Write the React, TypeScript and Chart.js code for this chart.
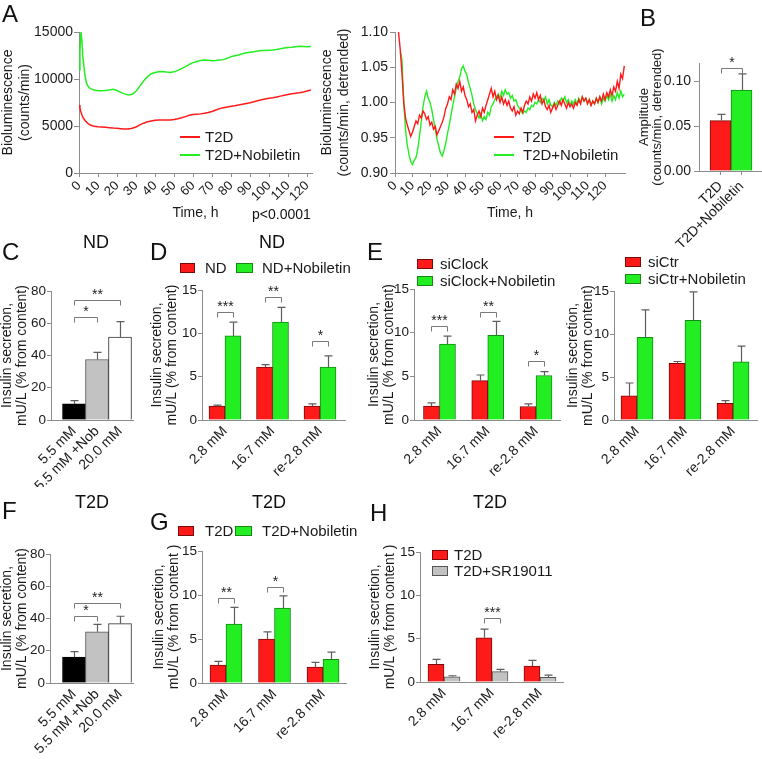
import React, { useEffect, useRef } from 'react';
import { Chart, registerables } from 'chart.js';

Chart.register(...registerables);

const FONT = "'Liberation Sans', Arial, Helvetica, sans-serif";
Chart.defaults.font.family = FONT;
Chart.defaults.font.size = 14;
Chart.defaults.color = '#1a1a1a';

// ---------------- data ----------------
const RAW_TIME_H = [0, 0.5, 1, 1.5, 2, 3, 4, 5, 6, 7, 8,
  10, 12, 14, 16, 18, 20, 22, 24, 26, 28,
  30, 32, 34, 36, 38, 40, 42, 44, 46, 48,
  50, 52, 54, 56, 58, 60, 62, 64, 66, 68,
  70, 72, 74, 76, 78, 80, 82, 84, 86, 88,
  90, 92, 94, 96, 98, 100, 102, 104, 106, 108,
  110, 112, 114, 116, 118, 120, 122];
const RAW_T2D = [7240, 6900, 6500, 6200, 5950, 5640, 5400, 5220, 5100, 5020, 4970,
  4920, 4890, 4860, 4820, 4780, 4750, 4720, 4690, 4670, 4760,
  4900, 5120, 5300, 5450, 5540, 5600, 5630, 5640, 5630, 5650,
  5700, 5780, 5870, 6000, 6140, 6220, 6260, 6290, 6350, 6440,
  6550, 6700, 6850, 6950, 7020, 7090, 7160, 7240, 7320, 7400,
  7480, 7580, 7690, 7790, 7870, 7940, 8010, 8090, 8180, 8270,
  8340, 8420, 8480, 8540, 8620, 8720, 8830];
const RAW_T2D_NOB = [10960, 13000, 15000, 14200, 12400, 10600, 9500, 9150, 8980, 8900, 8820,
  8760, 8740, 8770, 8840, 8900, 8780, 8580, 8420, 8300, 8380,
  8700, 9240, 9780, 10230, 10560, 10700, 10760, 10790, 10740, 10700,
  10760, 10920, 11100, 11320, 11560, 11740, 11860, 11980, 12020, 12000,
  11950, 11960, 12010, 12060, 12200, 12380, 12480, 12560, 12680, 12790,
  12850, 12900, 12980, 13020, 13040, 13070, 13090, 13150, 13220, 13300,
  13340, 13380, 13430, 13480, 13460, 13420, 13450];

const DETR_T2D_START_H = 2; // one reading per hour
const DETR_T2D = [
  1.100, 1.075, 1.040, 1.000, 0.978, 0.968, 0.960, 0.952, 0.958, 0.966,
  0.974, 0.970, 0.982, 0.978, 0.988, 0.984, 0.976, 0.980, 0.968, 0.972,
  0.962, 0.966, 0.954, 0.960, 0.966, 0.972, 0.980, 0.992, 0.998, 1.008,
  1.004, 1.018, 1.012, 1.026, 1.020, 1.030, 1.016, 1.022, 1.010, 1.004,
  0.994, 0.998, 0.986, 0.990, 0.974, 0.982, 0.988, 0.980, 0.992, 0.986,
  0.996, 1.004, 1.012, 1.020, 1.008, 1.016, 1.004, 1.010, 1.000, 1.008,
  0.998, 1.004, 0.996, 1.002, 0.992, 0.988, 0.994, 0.982, 0.988, 0.984,
  0.992, 0.986, 0.996, 1.002, 0.998, 1.008, 1.002, 1.012, 1.006, 1.014,
  1.004, 1.010, 0.998, 1.004, 0.994, 0.990, 0.996, 0.986, 0.992, 0.998,
  0.990, 0.996, 1.002, 0.996, 1.004, 0.998, 0.992, 1.000, 0.994, 0.998,
  0.992, 1.000, 0.996, 1.004, 0.998, 1.008, 1.002, 1.006, 0.998, 1.004,
  0.996, 1.002, 0.998, 1.006, 1.000, 1.008, 1.002, 1.012, 1.004, 1.014,
  1.008, 1.018, 1.010, 1.022, 1.016, 1.030, 1.020, 1.040, 1.034, 1.052];
const DETR_NOB_START_H = 3;
const DETR_NOB = [
  1.072, 1.060, 1.000, 0.962, 0.940, 0.926, 0.916, 0.912, 0.918, 0.922,
  0.934, 0.952, 0.972, 0.994, 1.008, 1.016, 1.006, 1.000, 0.990, 0.976,
  0.962, 0.948, 0.938, 0.928, 0.924, 0.932, 0.942, 0.956, 0.968, 0.982,
  0.996, 1.008, 1.020, 1.030, 1.036, 1.048, 1.052, 1.044, 1.040, 1.028,
  1.020, 1.010, 0.998, 0.990, 0.984, 0.978, 0.984, 0.974, 0.980, 0.976,
  0.986, 0.982, 0.994, 0.998, 1.004, 1.008, 1.012, 1.006, 1.016, 1.010,
  1.018, 1.012, 1.014, 1.006, 1.010, 1.002, 1.004, 0.996, 0.992, 0.988,
  0.984, 0.988, 0.986, 0.992, 0.990, 0.996, 0.994, 1.000, 0.998, 1.004,
  1.000, 1.006, 1.002, 1.008, 0.998, 1.004, 0.996, 0.994, 1.000, 0.996,
  1.002, 0.998, 1.006, 1.002, 1.008, 1.000, 1.004, 0.996, 1.002, 0.998,
  1.004, 0.998, 1.006, 1.000, 1.008, 1.002, 1.006, 1.000, 1.004, 0.996,
  1.002, 0.998, 1.006, 1.000, 1.008, 0.998, 1.006, 1.002, 1.010, 1.004,
  1.012, 1.002, 1.010, 1.004, 1.014, 1.006, 1.016, 1.008, 1.012];

const TIME_TICKS = [0, 10, 20, 30, 40, 50, 60, 70, 80, 90, 100, 110, 120];
const RAW_Y_TICKS = [0, 5000, 10000, 15000];
const DETR_Y_TICKS = [0.9, 0.95, 1.0, 1.05, 1.1];

const AMP_LABELS = ['T2D', 'T2D+Nobiletin'];
const AMP_VALUES = [0.056, 0.090];
const AMP_ERRORS = [0.007, 0.018];
const AMP_Y_TICKS = [0, 0.05, 0.1];

const GLC_LABELS = ['5.5 mM', '5.5 mM +Nob', '20.0 mM'];
const ND_GLC_VALUES = [10, 37.5, 51.5];
const ND_GLC_ERRORS = [2, 4.5, 9.5];
const T2D_GLC_VALUES = [16, 31.8, 36.8];
const T2D_GLC_ERRORS = [3.4, 4.5, 4.6];
const PCT_Y_TICKS = [0, 20, 40, 60, 80];

const PHASE_LABELS = ['2.8 mM', '16.7 mM', 're-2.8 mM'];
const SEC_Y_TICKS = [0, 5, 10, 15];
const D_ND = [1.6, 6.1, 1.6];
const D_ND_ERR = [0.12, 0.3, 0.25];
const D_ND_NOB = [9.7, 11.3, 6.1];
const D_ND_NOB_ERR = [1.6, 1.7, 1.3];
const E_SICLOCK = [1.6, 4.5, 1.55];
const E_SICLOCK_ERR = [0.35, 0.65, 0.3];
const E_SICLOCK_NOB = [8.7, 9.7, 5.1];
const E_SICLOCK_NOB_ERR = [0.9, 1.6, 0.45];
const E_SICTR = [2.8, 6.6, 1.95];
const E_SICTR_ERR = [1.5, 0.2, 0.3];
const E_SICTR_NOB = [9.6, 11.6, 6.75];
const E_SICTR_NOB_ERR = [3.2, 3.3, 1.85];
const G_T2D = [2.05, 5.0, 1.8];
const G_T2D_ERR = [0.4, 0.8, 0.55];
const G_T2D_NOB = [6.7, 8.5, 2.7];
const G_T2D_NOB_ERR = [1.9, 1.4, 0.8];
const H_T2D = [2.05, 5.1, 1.85];
const H_T2D_ERR = [0.55, 1.0, 0.65];
const H_T2D_SR = [0.6, 1.2, 0.55];
const H_T2D_SR_ERR = [0.12, 0.25, 0.25];

// ---------------- styles ----------------
const RED = '#ff1a1a';
const RED_EDGE = '#7a0a0a';
const GREEN = '#22ee22';
const GREEN_EDGE = '#138a13';
const GRAY = '#c2c2c2';
const GRAY_EDGE = '#555555';
const AXIS = '#8c8c8c';
const TEXT = '#1a1a1a';

type Box = { x: number; y: number; w: number; h: number };
type Area = { left: number; top: number; right: number; bottom: number };

function frame(box: Box, area: Area) {
  return {
    padding: { left: 0, top: area.top - box.y, right: box.x + box.w - area.right, bottom: 0 },
    yWidth: area.left - box.x,
    xHeight: box.y + box.h - area.bottom,
  };
}

function extras(spec: any) {
  return {
    id: 'extras',
    afterDatasetsDraw(chart: any) {
      const ctx = chart.ctx;
      const ys = chart.scales.y;
      chart.data.datasets.forEach((ds: any, di: number) => {
        if (!ds.errors) return;
        const meta = chart.getDatasetMeta(di);
        meta.data.forEach((el: any, i: number) => {
          const v = ds.data[i].y;
          const top = ys.getPixelForValue(v + ds.errors[i]);
          const x = Math.round(el.x) + 0.5;
          ctx.save();
          ctx.strokeStyle = '#5e5e5e';
          ctx.lineWidth = 1.2;
          ctx.beginPath();
          ctx.moveTo(x, el.y);
          ctx.lineTo(x, top);
          ctx.moveTo(x - 4, top);
          ctx.lineTo(x + 4, top);
          ctx.stroke();
          ctx.restore();
        });
      });
    },
    afterDraw(chart: any) {
      const ctx = chart.ctx;
      const ys = chart.scales.y;
      (spec.brackets || []).forEach((b: any) => {
        const x1 = Math.round(chart.getDatasetMeta(b.a[0]).data[b.a[1]].x) + 0.5;
        const x2 = Math.round(chart.getDatasetMeta(b.b[0]).data[b.b[1]].x) + 0.5;
        const y = Math.round(ys.getPixelForValue(b.y)) + 0.5;
        ctx.save();
        ctx.strokeStyle = '#7a7a7a';
        ctx.lineWidth = 1;
        ctx.beginPath();
        ctx.moveTo(x1, y + 5);
        ctx.lineTo(x1, y);
        ctx.lineTo(x2, y);
        ctx.lineTo(x2, y + 5);
        ctx.stroke();
        ctx.fillStyle = '#222';
        ctx.font = `14px ${FONT}`;
        ctx.textAlign = 'center';
        ctx.textBaseline = 'alphabetic';
        ctx.fillText(b.label, (x1 + x2) / 2, y - 2);
        ctx.restore();
      });
      const [ox, oy] = spec.origin;
      (spec.legend || []).forEach((it: any) => {
        ctx.save();
        ctx.translate(-ox, -oy);
        if (it.kind === 'line') {
          ctx.strokeStyle = it.fill;
          ctx.lineWidth = 2;
          ctx.beginPath();
          ctx.moveTo(it.x, it.cy);
          ctx.lineTo(it.x + it.w, it.cy);
          ctx.stroke();
        } else {
          ctx.fillStyle = it.fill;
          ctx.fillRect(it.x, it.cy - it.h / 2, it.w, it.h);
          ctx.strokeStyle = it.stroke;
          ctx.lineWidth = 1;
          ctx.strokeRect(it.x + 0.5, it.cy - it.h / 2 + 0.5, it.w - 1, it.h - 1);
        }
        ctx.fillStyle = TEXT;
        ctx.font = `15px ${FONT}`;
        ctx.textAlign = 'left';
        ctx.textBaseline = 'middle';
        ctx.fillText(it.text, it.tx, it.cy + 1);
        ctx.restore();
      });
    },
  };
}

function yAxis(fr: any, min: number, max: number, ticks: number[], fmt: (v: number) => string, title: string[], tSize = 14, tLH = 1.05, tickPad = 1, tickLen = 4, tickSize = 13.5) {
  return {
    type: 'linear',
    position: 'left',
    min,
    max,
    afterFit: (s: any) => { s.width = fr.yWidth; },
    afterBuildTicks: (s: any) => { s.ticks = ticks.map((v) => ({ value: v })); },
    ticks: { color: TEXT, font: { size: tickSize }, padding: tickPad, callback: (v: any) => fmt(Number(v)) },
    grid: { drawOnChartArea: false, drawTicks: true, tickLength: tickLen, color: AXIS, lineWidth: 1 },
    border: { display: true, color: AXIS, width: 1 },
    title: { display: true, text: title, color: TEXT, font: { size: tSize, lineHeight: tLH }, padding: 0 },
  };
}

function xCats(fr: any, min: number, max: number, labels: string[], tickLen: number) {
  return {
    type: 'linear',
    position: 'bottom',
    offset: false,
    min,
    max,
    afterFit: (s: any) => { s.height = fr.xHeight; },
    afterBuildTicks: (s: any) => { s.ticks = labels.map((_, i) => ({ value: i })); },
    ticks: {
      autoSkip: false, minRotation: 45, maxRotation: 45, color: TEXT, font: { size: 14 }, padding: 3,
      callback: (v: any) => labels[Number(v)] ?? '',
    },
    grid: { offset: false, drawOnChartArea: false, drawTicks: tickLen > 0, tickLength: tickLen, color: AXIS },
    border: { display: true, color: AXIS, width: 1 },
  };
}

function baseOptions(fr: any, scales: any) {
  return {
    responsive: false,
    maintainAspectRatio: false,
    animation: false,
    events: [],
    layout: { padding: fr.padding },
    plugins: { legend: { display: false }, tooltip: { enabled: false }, title: { display: false } },
    scales,
  };
}

function bars(label: string, values: number[], errors: number[], fill: any, edge: any, thickness: number) {
  return {
    label,
    data: values.map((v, i) => ({ x: i, y: v })),
    errors,
    backgroundColor: fill,
    borderColor: edge,
    borderWidth: 1,
    barThickness: thickness,
  };
}

function timeAxis(fr: any, max: number) {
  return {
    type: 'linear', min: 0, max,
    afterFit: (s: any) => { s.height = fr.xHeight; },
    afterBuildTicks: (s: any) => { s.ticks = TIME_TICKS.map((v) => ({ value: v })); },
    ticks: { autoSkip: false, minRotation: 45, maxRotation: 45, color: TEXT, font: { size: 13 }, padding: 1, callback: (v: any) => String(v) },
    grid: { drawOnChartArea: false, tickLength: 4, color: AXIS },
    border: { display: true, color: AXIS, width: 1 },
    title: { display: true, text: 'Time, h', color: TEXT, font: { size: 14 }, padding: { top: 0, bottom: 3 } },
  };
}

// ---------------- chart builders ----------------
function rawChart(box: Box) {
  const area = { left: 79, top: 32, right: 312, bottom: 173 };
  const fr = frame(box, area);
  return {
    type: 'line',
    data: {
      datasets: [
        { label: 'T2D', data: RAW_TIME_H.map((t, i) => ({ x: t, y: RAW_T2D[i] })), borderColor: RED, borderWidth: 1.5, pointRadius: 0, tension: 0 },
        { label: 'T2D+Nobiletin', data: RAW_TIME_H.map((t, i) => ({ x: t, y: RAW_T2D_NOB[i] })), borderColor: GREEN, borderWidth: 1.5, pointRadius: 0, tension: 0 },
      ],
    },
    options: baseOptions(fr, {
      x: timeAxis(fr, 122.6),
      y: yAxis(fr, 0, 15000, RAW_Y_TICKS, (v) => String(v), ['Bioluminescence', '(counts/min)'], 14, 1.2, 1, 5, 14),
    }),
    plugins: [extras({
      origin: [box.x, box.y],
      legend: [
        { kind: 'line', x: 180, w: 20, cy: 137, fill: RED, text: 'T2D', tx: 205 },
        { kind: 'line', x: 180, w: 20, cy: 155, fill: GREEN, text: 'T2D+Nobiletin', tx: 205 },
      ],
    })],
  };
}

function detrendedChart(box: Box) {
  const area = { left: 395, top: 32, right: 625, bottom: 173 };
  const fr = frame(box, area);
  return {
    type: 'line',
    data: {
      datasets: [
        { label: 'T2D', data: DETR_T2D.map((v, i) => ({ x: DETR_T2D_START_H + i, y: v })), borderColor: RED, borderWidth: 1.4, pointRadius: 0, tension: 0 },
        { label: 'T2D+Nobiletin', data: DETR_NOB.map((v, i) => ({ x: DETR_NOB_START_H + i, y: v })), borderColor: GREEN, borderWidth: 1.4, pointRadius: 0, tension: 0 },
      ],
    },
    options: baseOptions(fr, {
      x: timeAxis(fr, 131.4),
      y: yAxis(fr, 0.9, 1.1, DETR_Y_TICKS, (v) => v.toFixed(2), ['Bioluminescence', '(counts/min, detrended)'], 14, 1.2, 2, 5, 14),
    }),
    plugins: [extras({
      origin: [box.x, box.y],
      legend: [
        { kind: 'line', x: 494, w: 20, cy: 137, fill: RED, text: 'T2D', tx: 523 },
        { kind: 'line', x: 494, w: 20, cy: 155, fill: GREEN, text: 'T2D+Nobiletin', tx: 523 },
      ],
    })],
  };
}

function amplitudeChart(box: Box) {
  const area = { left: 699, top: 63, right: 762, bottom: 171 };
  const fr = frame(box, area);
  return {
    type: 'bar',
    data: { datasets: [bars('Amplitude', AMP_VALUES, AMP_ERRORS, [RED, GREEN], [RED_EDGE, GREEN_EDGE], 21)] },
    options: baseOptions(fr, {
      x: xCats(fr, -1.024, 1.976, AMP_LABELS, 4),
      y: yAxis(fr, 0, 0.12, AMP_Y_TICKS, (v) => v.toFixed(2), ['Amplitude', '(counts/min, detrended)'], 13, 1.0, 3, 5, 14),
    }),
    plugins: [extras({ origin: [box.x, box.y], brackets: [{ a: [0, 0], b: [0, 1], y: 0.115, label: '*' }] })],
  };
}

function glucoseChart(box: Box, area: Area, xMin: number, values: number[], errors: number[], brackets: any[]) {
  const fr = frame(box, area);
  return {
    type: 'bar',
    data: { datasets: [bars('Insulin', values, errors, ['#000000', GRAY, '#ffffff'], ['#000000', GRAY_EDGE, '#333333'], 23)] },
    options: baseOptions(fr, {
      x: xCats(fr, xMin, 2.565, GLC_LABELS, 0),
      y: yAxis(fr, 0, 80, PCT_Y_TICKS, (v) => String(v), ['Insulin secretion,', 'mU/L (% from content)']),
    }),
    plugins: [extras({ origin: [box.x, box.y], brackets })],
  };
}

function pairChart(box: Box, area: Area, xMin: number, xMax: number, dsA: any, dsB: any, title: string[], brackets: any[], legend: any[]) {
  const fr = frame(box, area);
  return {
    type: 'bar',
    data: { datasets: [dsA, dsB] },
    options: baseOptions(fr, {
      x: xCats(fr, xMin, xMax, PHASE_LABELS, 0),
      y: yAxis(fr, 0, 15, SEC_Y_TICKS, (v) => String(v), title),
    }),
    plugins: [extras({ origin: [box.x, box.y], brackets, legend })],
  };
}

const TITLE_ND = ['Insulin secretion,', 'mU/L (% from content)'];
const TITLE_T2D = ['Insulin secretion,', 'mU/L (% from content )'];

const CHARTS: { box: Box; build: (b: Box) => any }[] = [
  { box: { x: 0, y: 0, w: 325, h: 225 }, build: rawChart },
  { box: { x: 319, y: 0, w: 311, h: 225 }, build: detrendedChart },
  { box: { x: 638, y: 0, w: 124, h: 250 }, build: amplitudeChart },
  {
    box: { x: 0, y: 225, w: 140, h: 262 },
    build: (b) => glucoseChart(b, { left: 51, top: 291, right: 133, bottom: 420 }, -1.0, ND_GLC_VALUES, ND_GLC_ERRORS, [
      { a: [0, 0], b: [0, 2], y: 74.5, label: '**' },
      { a: [0, 0], b: [0, 1], y: 64, label: '*' },
    ]),
  },
  {
    box: { x: 0, y: 487, w: 140, h: 272 },
    build: (b) => glucoseChart(b, { left: 50, top: 554, right: 133, bottom: 683 }, -1.043, T2D_GLC_VALUES, T2D_GLC_ERRORS, [
      { a: [0, 0], b: [0, 2], y: 49.5, label: '**' },
      { a: [0, 0], b: [0, 1], y: 41.5, label: '*' },
    ]),
  },
  {
    box: { x: 150, y: 225, w: 205, h: 262 },
    build: (b) => pairChart(b, { left: 202, top: 290, right: 345, bottom: 420 }, -0.484, 2.526,
      bars('ND', D_ND, D_ND_ERR, RED, RED_EDGE, 16),
      bars('ND+Nobiletin', D_ND_NOB, D_ND_NOB_ERR, GREEN, GREEN_EDGE, 16),
      TITLE_ND,
      [
        { a: [0, 0], b: [1, 0], y: 12.5, label: '***' },
        { a: [0, 1], b: [1, 1], y: 14.2, label: '**' },
        { a: [0, 2], b: [1, 2], y: 9.1, label: '*' },
      ],
      [
        { kind: 'box', x: 180, w: 15, h: 10, cy: 268, fill: RED, stroke: RED_EDGE, text: 'ND', tx: 205 },
        { kind: 'box', x: 236, w: 17, h: 10, cy: 268, fill: GREEN, stroke: GREEN_EDGE, text: 'ND+Nobiletin', tx: 262 },
      ]),
  },
  {
    box: { x: 367, y: 225, w: 198, h: 262 },
    build: (b) => pairChart(b, { left: 414, top: 289, right: 560, bottom: 420 }, -0.528, 2.497,
      bars('siClock', E_SICLOCK, E_SICLOCK_ERR, RED, RED_EDGE, 16),
      bars('siClock+Nobiletin', E_SICLOCK_NOB, E_SICLOCK_NOB_ERR, GREEN, GREEN_EDGE, 16),
      TITLE_ND,
      [
        { a: [0, 0], b: [1, 0], y: 10.8, label: '***' },
        { a: [0, 1], b: [1, 1], y: 12.4, label: '**' },
        { a: [0, 2], b: [1, 2], y: 6.7, label: '*' },
      ],
      [
        { kind: 'box', x: 417, w: 16, h: 10, cy: 264, fill: RED, stroke: RED_EDGE, text: 'siClock', tx: 440 },
        { kind: 'box', x: 417, w: 16, h: 10, cy: 281, fill: GREEN, stroke: GREEN_EDGE, text: 'siClock+Nobiletin', tx: 440 },
      ]),
  },
  {
    box: { x: 566, y: 225, w: 196, h: 262 },
    build: (b) => pairChart(b, { left: 614, top: 291, right: 757, bottom: 420 }, -0.479, 2.5,
      bars('siCtr', E_SICTR, E_SICTR_ERR, RED, RED_EDGE, 16),
      bars('siCtr+Nobiletin', E_SICTR_NOB, E_SICTR_NOB_ERR, GREEN, GREEN_EDGE, 16),
      TITLE_ND,
      [],
      [
        { kind: 'box', x: 625, w: 16, h: 10, cy: 262, fill: RED, stroke: RED_EDGE, text: 'siCtr', tx: 648 },
        { kind: 'box', x: 625, w: 16, h: 10, cy: 279, fill: GREEN, stroke: GREEN_EDGE, text: 'siCtr+Nobiletin', tx: 648 },
      ]),
  },
  {
    box: { x: 152, y: 487, w: 210, h: 272 },
    build: (b) => pairChart(b, { left: 202, top: 551, right: 346, bottom: 683 }, -0.495, 2.474,
      bars('T2D', G_T2D, G_T2D_ERR, RED, RED_EDGE, 16),
      bars('T2D+Nobiletin', G_T2D_NOB, G_T2D_NOB_ERR, GREEN, GREEN_EDGE, 16),
      TITLE_T2D,
      [
        { a: [0, 0], b: [1, 0], y: 9.7, label: '**' },
        { a: [0, 1], b: [1, 1], y: 10.9, label: '*' },
      ],
      [
        { kind: 'box', x: 178, w: 16, h: 10, cy: 531, fill: RED, stroke: RED_EDGE, text: 'T2D', tx: 205 },
        { kind: 'box', x: 235, w: 17, h: 10, cy: 531, fill: GREEN, stroke: GREEN_EDGE, text: 'T2D+Nobiletin', tx: 262 },
      ]),
  },
  {
    box: { x: 368, y: 487, w: 200, h: 272 },
    build: (b) => pairChart(b, { left: 420, top: 552, right: 563, bottom: 682 }, -0.5, 2.48,
      bars('T2D', H_T2D, H_T2D_ERR, RED, RED_EDGE, 16),
      bars('T2D+SR19011', H_T2D_SR, H_T2D_SR_ERR, GRAY, GRAY_EDGE, 16),
      TITLE_T2D,
      [{ a: [0, 1], b: [1, 1], y: 7.4, label: '***' }],
      [
        { kind: 'box', x: 432, w: 16, h: 10, cy: 555, fill: RED, stroke: RED_EDGE, text: 'T2D', tx: 454 },
        { kind: 'box', x: 432, w: 16, h: 10, cy: 571, fill: GRAY, stroke: GRAY_EDGE, text: 'T2D+SR19011', tx: 454 },
      ]),
  },
];

const LETTERS = [
  { t: 'A', x: 2, y: 2 },
  { t: 'B', x: 640, y: 6 },
  { t: 'C', x: 2, y: 240 },
  { t: 'D', x: 150, y: 240 },
  { t: 'E', x: 367, y: 240 },
  { t: 'F', x: 2, y: 499 },
  { t: 'G', x: 150, y: 510 },
  { t: 'H', x: 370, y: 501 },
];

const TITLES = [
  { t: 'ND', cx: 96, y: 233 },
  { t: 'ND', cx: 272, y: 233 },
  { t: 'T2D', cx: 92, y: 493 },
  { t: 'T2D', cx: 269, y: 493 },
  { t: 'T2D', cx: 490, y: 493 },
];

function ChartCanvas({ box, build }: { box: Box; build: (b: Box) => any }) {
  const ref = useRef<HTMLCanvasElement>(null);
  useEffect(() => {
    const chart = new Chart(ref.current as HTMLCanvasElement, build(box));
    return () => chart.destroy();
  }, []);
  return (
    <canvas
      ref={ref}
      width={box.w}
      height={box.h}
      style={{ position: 'absolute', left: box.x, top: box.y, width: box.w, height: box.h }}
    />
  );
}

export default function App() {
  return (
    <div style={{ position: 'absolute', left: 0, top: 0, width: 762, height: 759, background: '#ffffff', overflow: 'hidden', fontFamily: FONT, color: '#111' }}>
      {CHARTS.map((c, i) => (
        <ChartCanvas key={i} box={c.box} build={c.build} />
      ))}
      {LETTERS.map((l) => (
        <div key={l.t} style={{ position: 'absolute', left: l.x, top: l.y, fontSize: 24, lineHeight: '24px' }}>{l.t}</div>
      ))}
      {TITLES.map((t, i) => (
        <div key={i} style={{ position: 'absolute', left: t.cx - 50, top: t.y, width: 100, textAlign: 'center', fontSize: 18, lineHeight: '18px' }}>{t.t}</div>
      ))}
      <div style={{ position: 'absolute', left: 252, top: 207, fontSize: 14, lineHeight: '14px' }}>p&lt;0.0001</div>
    </div>
  );
}
